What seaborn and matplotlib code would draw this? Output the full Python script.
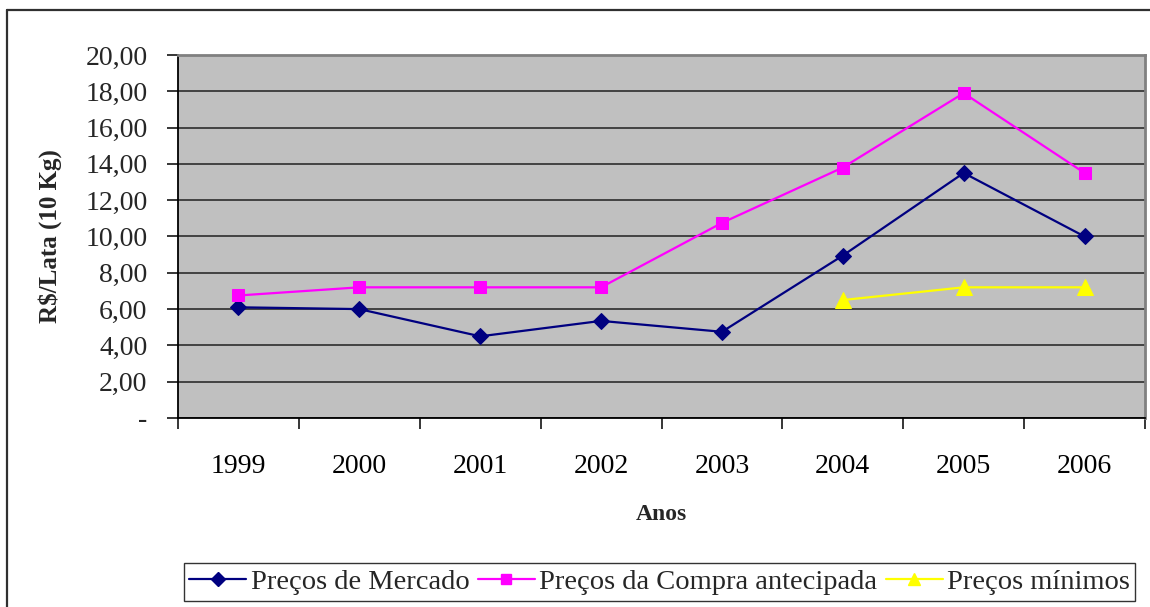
import matplotlib
matplotlib.use("Agg")
import matplotlib.pyplot as plt
from matplotlib.lines import Line2D
from matplotlib.ticker import FixedLocator, FuncFormatter
import seaborn as sns
import pandas as pd
import numpy as np

anos = ["1999", "2000", "2001", "2002", "2003", "2004", "2005", "2006"]
precos_mercado = [6.10, 6.00, 4.50, 5.35, 4.75, 8.95, 13.50, 10.00]
precos_compra = [6.75, 7.20, 7.20, 7.20, 10.75, 13.80, 17.90, 13.50]
anos_minimos = ["2004", "2005", "2006"]
precos_minimos = [6.50, 7.20, 7.20]

serie_nomes = ["Preços de Mercado", "Preços da Compra antecipada", "Preços mínimos"]
cores = ["#000080", "#FF00FF", "#FFFF00"]
marcadores = ["D", "s", "^"]
tamanhos = [8, 9, 11]

sns.set_theme(style="white")
plt.rcParams["font.family"] = ["Liberation Serif", "DejaVu Serif"]

rows = []
for a, v in zip(anos, precos_mercado):
    rows.append((serie_nomes[0], anos.index(a), v))
for a, v in zip(anos, precos_compra):
    rows.append((serie_nomes[1], anos.index(a), v))
for a, v in zip(anos_minimos, precos_minimos):
    rows.append((serie_nomes[2], anos.index(a), v))
df = pd.DataFrame(rows, columns=["serie", "pos", "valor"])

fig = plt.figure(figsize=(11.5, 6.07), dpi=100)
W, H = 1150, 607
ax = fig.add_axes([178 / W, 1 - 418 / H, (1145 - 178) / W, (418 - 55) / H])
ax.set_facecolor("#C0C0C0")

for nome, cor, mk, ms in zip(serie_nomes, cores, marcadores, tamanhos):
    sub = df[df["serie"] == nome]
    sns.lineplot(data=sub, x="pos", y="valor", ax=ax, color=cor, marker=mk,
                 markersize=ms, markeredgecolor=cor, linewidth=1.6,
                 legend=False, zorder=3)

ax.set_xlim(-0.5, len(anos) - 0.5)
ax.set_ylim(0, 20)
ax.yaxis.set_major_locator(FixedLocator(np.arange(0, 21, 2)))
ax.yaxis.set_major_formatter(FuncFormatter(
    lambda v, p: "-" if abs(v) < 1e-9 else f"{v:.2f}".replace(".", ",")))
ax.grid(axis="y", color="#202020", linewidth=1.1)
ax.grid(axis="x", visible=False)
ax.set_axisbelow(True)

ax.set_xticks(range(len(anos)))
ax.set_xticklabels(anos)
ax.set_xticks(np.arange(-0.5, len(anos), 1.0), minor=True)
ax.tick_params(axis="x", which="major", length=0, pad=26, labelsize=20, colors="black")
ax.tick_params(axis="x", which="minor", length=8, width=1.1, direction="out",
               color="black", bottom=True)
ax.tick_params(axis="y", which="major", length=8, width=1.1, direction="out",
               color="black", pad=14, labelsize=20, left=True)

for s in ["left", "bottom"]:
    ax.spines[s].set_color("black")
    ax.spines[s].set_linewidth(1.3)
for s in ["top", "right"]:
    ax.spines[s].set_color("#808080")
    ax.spines[s].set_linewidth(2)

ax.set_xlabel("Anos", fontsize=17, fontweight="bold")
ax.xaxis.set_label_coords(0.5, (418 - 515) / 363)
ax.xaxis.label.set_va("center")
ax.set_ylabel("R$/Lata (10 Kg)", fontsize=18, fontweight="bold")
ax.yaxis.set_label_coords((50 - 178) / 967, 0.5)
ax.yaxis.label.set_va("center")

handles = [Line2D([0], [0], color=c, marker=m, markersize=s * 0.85,
                  markeredgecolor=c, linewidth=1.6)
           for c, m, s in zip(cores, marcadores, tamanhos)]
leg = fig.legend(handles, serie_nomes, loc="center",
                 bbox_to_anchor=((181 + 1138) / 2 / W, 1 - 582 / H),
                 bbox_transform=fig.transFigure, ncol=3, fontsize=20.5,
                 frameon=True, fancybox=False, shadow=False,
                 edgecolor="black", handlelength=2.0, handletextpad=0.15,
                 columnspacing=0.3, borderpad=0.2, borderaxespad=0)
leg.get_frame().set_linewidth(1.0)

# outer chart frame
fig.add_artist(Line2D([7 / W, 7 / W], [1 - 10 / H, 0], transform=fig.transFigure,
                      color="#303030", linewidth=1.6))
fig.add_artist(Line2D([7 / W, 1], [1 - 10 / H, 1 - 10 / H], transform=fig.transFigure,
                      color="#303030", linewidth=1.6))

fig.savefig("out.png", dpi=100, facecolor="white")
